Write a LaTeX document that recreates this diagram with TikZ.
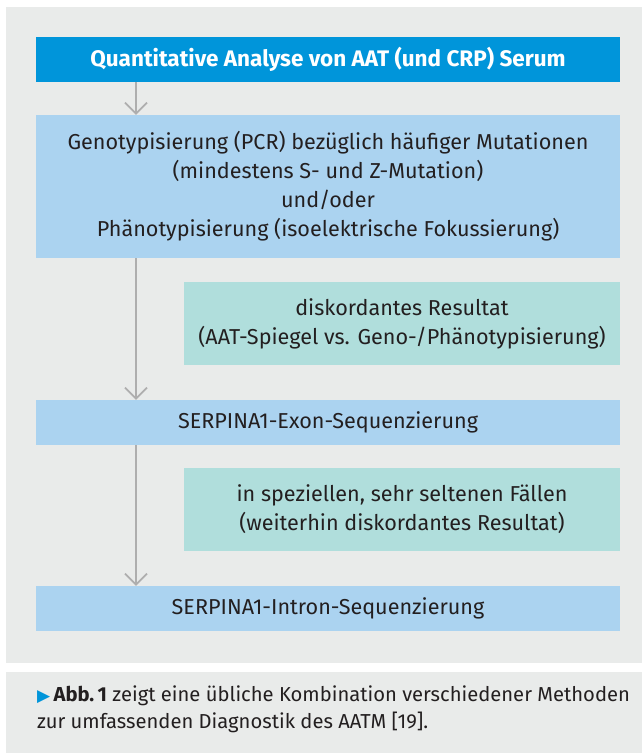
\documentclass[tikz,border=0pt]{standalone}
\usepackage{fontspec}
\setmainfont{Fira Sans}
\newfontfamily\symfont{DejaVu Sans}
\usetikzlibrary{arrows.meta}

\definecolor{panelgray}{HTML}{E9EBEA}
\definecolor{headblue}{HTML}{0095DA}
\definecolor{stepblue}{HTML}{ABD3F0}
\definecolor{noteteal}{HTML}{B0DEDC}
\definecolor{arrowgray}{HTML}{AEAEAE}
\definecolor{textdark}{HTML}{231F20}

\begin{document}
\begin{tikzpicture}[x=1pt,y=-1pt,
    box/.style={inner sep=0pt, align=center, text=textdark,
        font=\fontsize{21.6}{29}\selectfont},
    headbox/.style={box, fill=headblue, text=white, minimum width=584pt,
        minimum height=45pt, font=\fontsize{22.5}{29}\selectfont\bfseries},
    stepbox/.style={box, fill=stepblue, minimum width=584pt},
    notebox/.style={box, fill=noteteal, minimum width=436pt, minimum height=83pt},
    flow/.style={arrowgray, line width=1.8pt,
        -{Straight Barb[length=11pt, width=22pt, line width=1.8pt]}}]
\useasboundingbox (0,0) rectangle (642,753);
\fill[panelgray] (6,7) rectangle (642,663);
\fill[panelgray] (6,672) rectangle (642,753);

\node[headbox] (head) at (328,59.5) {Quantitative Analyse von AAT (und CRP) Serum};
\node[stepbox, minimum height=143pt] (geno) at (328,186.5)
    {Genotypisierung (PCR) bezüglich häufiger Mutationen\\
     (mindestens S- und Z-Mutation)\\
     und/oder\\
     Phänotypisierung (isoelektrische Fokussierung)};
\node[notebox] (disk) at (402,323.5)
    {diskordantes Resultat\\(AAT-Spiegel vs. Geno-/Phänotypisierung)};
\node[stepbox, minimum height=45pt] (exon) at (328,422.5) {SERPINA1-Exon-Sequenzierung};
\node[notebox] (rare) at (402,509)
    {in speziellen, sehr seltenen Fällen\\(weiterhin diskordantes Resultat)};
\node[stepbox, minimum height=45pt] (intron) at (328,608.5) {SERPINA1-Intron-Sequenzierung};

\coordinate (ax) at (136,0);
\draw[flow] (head.south -| ax) -- (geno.north -| ax);
\draw[flow] (geno.south -| ax) -- (exon.north -| ax);
\draw[flow] (exon.south -| ax) -- (intron.north -| ax);

% caption
\node[box, anchor=north west, align=left, font=\fontsize{20.2}{27}\selectfont]
    (caption) at (37,686)
    {{\color{headblue}\symfont\fontsize{17}{27}\selectfont ▶}\,\textbf{Abb.\,1} zeigt eine übliche Kombination verschiedener Methoden\\
     zur umfassenden Diagnostik des AATM [19].};
\end{tikzpicture}
\end{document}
